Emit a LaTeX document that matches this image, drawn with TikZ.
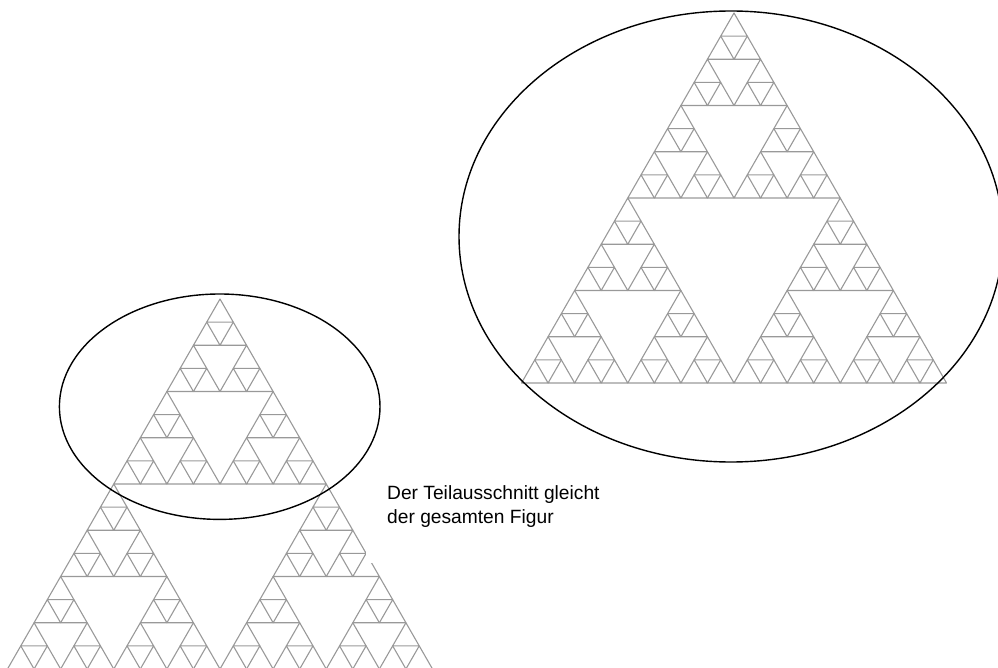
\documentclass[tikz,border=0pt]{standalone}
\usepackage{fontspec}
\setmainfont{Liberation Sans}
\tikzset{
  fractal/.style={draw=black!40, line width=1.1pt, line join=round},
  outline/.style={draw=black, line width=1.4pt},
  caption/.style={font=\fontsize{19.2}{24}\selectfont, align=left, inner sep=0pt},
  % Sierpinski triangle, 4 levels, apex at the pic origin
  pics/sierpinski/.style={code={
    \foreach \a in {0,1,2}
     \foreach \b in {0,1,2}
      \foreach \c in {0,1,2}
       \foreach \d in {0,1,2}{
        \pgfmathsetmacro\dx{106.25*(\a>0)*(2*\a-3)+53.125*(\b>0)*(2*\b-3)+26.5625*(\c>0)*(2*\c-3)+13.28125*(\d>0)*(2*\d-3)}
        \pgfmathsetmacro\dy{185*(\a>0)+92.5*(\b>0)+46.25*(\c>0)+23.125*(\d>0)}
        \draw[fractal] (\dx,\dy) --++ (-13.28125,23.125) --++ (26.5625,0) -- cycle;
       }
  }}
}
\begin{document}
\begin{tikzpicture}[x=1pt, y=-1pt]
  \useasboundingbox (0,0) rectangle (998,668);
  \clip (0,0) rectangle (998,668);
  \coordinate (L) at (220,299);
  \coordinate (R) at (734,13);

  % whole figure, bottom left
  \pic at (L) {sierpinski};
  \fill[white] (366,458) rectangle (610,563);
  \draw[outline] (219.7,406.7) ellipse [x radius=160.3, y radius=112.7];

  % enlarged part, top right
  \pic at (R) {sierpinski};
  \draw[outline] (731,236.5) ellipse [x radius=272, y radius=225.5];

  \node[caption, anchor=base west] (caption) at (387,523) {Der Teilausschnitt gleicht\\der gesamten Figur};
\end{tikzpicture}
\end{document}
